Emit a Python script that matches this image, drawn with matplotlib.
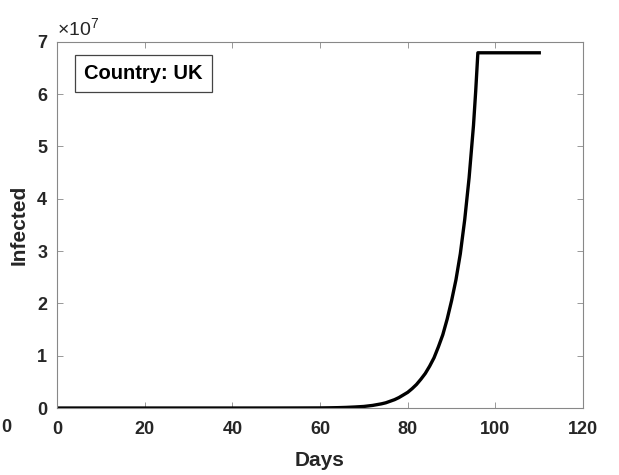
import matplotlib
matplotlib.use("Agg")
import matplotlib.pyplot as plt
from matplotlib.ticker import FuncFormatter

# (values in units of 1e7 people)
days = [0, 10, 20, 30, 40, 50, 55, 60, 62, 64, 66, 68, 70, 71, 72, 73, 74, 75,
        76, 77, 78, 79, 80, 81, 82, 83, 84, 85, 86, 87, 88, 89, 90, 91, 92,
        93, 93.5, 94, 94.5, 95, 95.5, 96, 110]
infected_e7 = [0, 0, 0, 0, 0, 0.0003, 0.001, 0.002, 0.004, 0.007, 0.012, 0.02,
               0.03, 0.04, 0.05, 0.065, 0.08, 0.1, 0.13, 0.16, 0.2, 0.25, 0.3,
               0.37, 0.45, 0.55, 0.66, 0.8, 0.96, 1.17, 1.4, 1.7, 2.05, 2.45,
               2.95, 3.6, 4.0, 4.4, 4.9, 5.4, 6.05, 6.79, 6.79]
infected = [v * 1e7 for v in infected_e7]
xticks = [0, 20, 40, 60, 80, 100, 120]
yticks = [v * 1e7 for v in range(8)]

plt.rcParams['font.family'] = 'Liberation Sans'
plt.rcParams['mathtext.default'] = 'regular'

fig = plt.figure(figsize=(6.19, 4.75), dpi=100)
ax = fig.add_axes([0.092, 0.141, 0.85, 0.771])

ax.plot(days, infected, color='black', linewidth=2.4, solid_joinstyle='round')
ax.set_xlim(0, 120)
ax.set_ylim(0, 7e7)
ax.set_xticks(xticks)
ax.set_yticks(yticks)
ax.yaxis.set_major_formatter(FuncFormatter(lambda v, pos: '%d' % round(v / 1e7)))

ax.tick_params(direction='in', top=True, right=True, length=4, width=0.6,
               colors='#888888', labelcolor='#262626', labelsize=13)
ax.tick_params(axis='x', pad=9)
ax.tick_params(axis='y', pad=7)
for lab in ax.get_xticklabels() + ax.get_yticklabels():
    lab.set_fontweight('bold')
for sp in ax.spines.values():
    sp.set_color('#888888')
    sp.set_linewidth(0.8)

ax.set_xlabel('Days', fontsize=15, fontweight='bold', color='#262626', labelpad=10)
ax.set_ylabel('Infected', fontsize=15, fontweight='bold', color='#262626', labelpad=6)

ax.text(0.0, 1.008, r'$\times10^{7}$', transform=ax.transAxes, fontsize=14,
        color='#262626', ha='left', va='bottom')

ax.text(0.052, 0.913, 'Country: UK', transform=ax.transAxes, fontsize=14.5,
        fontweight='bold', color='black', ha='left', va='center',
        bbox=dict(boxstyle='square,pad=0.45', facecolor='white',
                  edgecolor='#444444', linewidth=0.9))

# tick label from a neighbouring panel at the far left
fig.text(0.002, 0.099, '0', fontsize=13, fontweight='bold', color='#262626',
         ha='left', va='center')

fig.savefig('out.png', dpi=100)
